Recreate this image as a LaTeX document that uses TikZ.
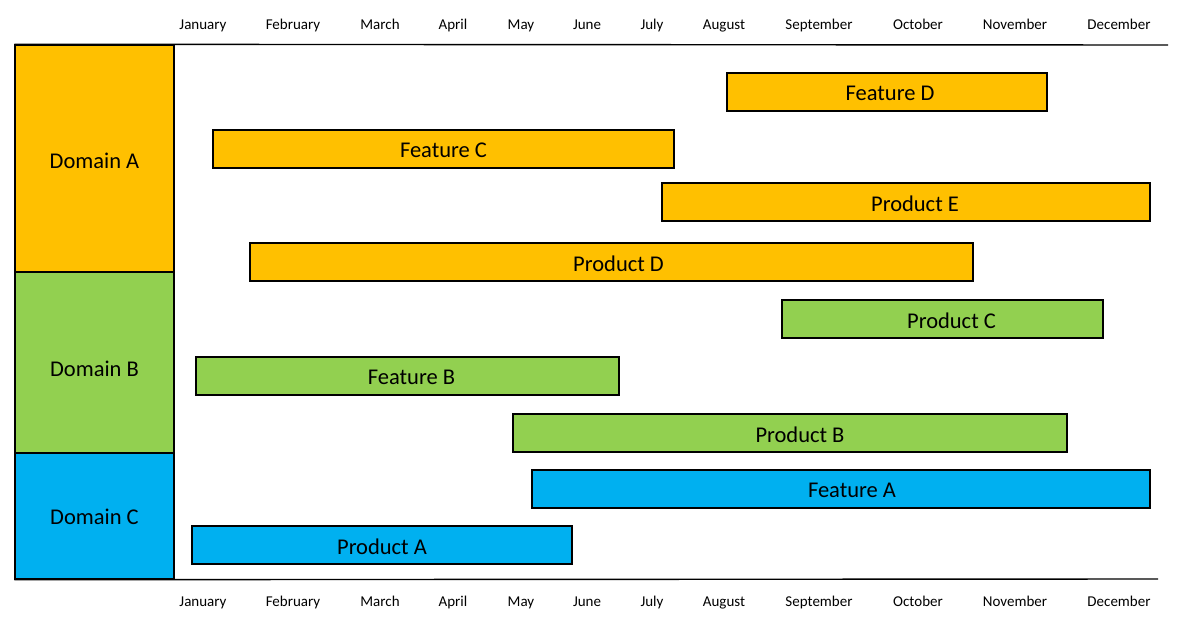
\documentclass[tikz,border=0pt]{standalone}
\usepackage{fontspec}
\setmainfont{Carlito}
\definecolor{amber}{HTML}{FFC000}
\definecolor{leaf}{HTML}{92D050}
\definecolor{sky}{HTML}{00B0F0}
\tikzset{
  bar/.style={draw=black, line width=1.4pt, inner sep=0pt, minimum height=38pt,
    font=\fontsize{22.5}{26}\selectfont},
  domainbox/.style={draw=black, line width=1.4pt, inner sep=0pt, minimum width=159pt,
    font=\fontsize{22.5}{26}\selectfont},
  month/.style={anchor=base, inner sep=0pt, font=\fontsize{15}{18}\selectfont}
}
% text moved down inside its box, size kept
\newcommand{\droptext}[2]{\raisebox{-#1pt}[\height][\depth]{#2}}
% bar text pushed right by half the gap
\newcommand{\pushtext}[2]{\droptext{1.5}{\hspace*{#1pt}#2}}
\begin{document}
\begin{tikzpicture}[x=1pt, y=-1pt]
            \useasboundingbox (0,0) rectangle (1200,640);
            % domains
            \node[domainbox, fill=amber, minimum height=227pt] (domA) at (94.5,158.5) {\droptext{2}{Domain A}};
            \node[domainbox, fill=leaf, minimum height=181pt] (domB) at (94.5,362.5) {\droptext{6}{Domain B}};
            \node[domainbox, fill=sky, minimum height=126pt] (domC) at (94.5,516) {\droptext{1}{Domain C}};

            % axis lines
            \coordinate (topend) at (1168,45);
            \coordinate (botend) at (1158,579);
            \draw[line width=1.4pt] (domA.north west) -- (topend);
            \draw[line width=1.4pt] (domC.south west) -- (botend);

            % months, top
            \node[month] (jan-t) at (203,29) {January};
            \node[month] (feb-t) at (293,29) {February};
            \node[month] (mar-t) at (380,29) {March};
            \node[month] (apr-t) at (453,29) {April};
            \node[month] (may-t) at (521,29) {May};
            \node[month] (jun-t) at (587,29) {June};
            \node[month] (jul-t) at (652,29) {July};
            \node[month] (aug-t) at (724,29) {August};
            \node[month] (sep-t) at (819,29) {September};
            \node[month] (oct-t) at (918,29) {October};
            \node[month] (nov-t) at (1015,29) {November};
            \node[month] (dec-t) at (1119,29) {December};

            % months, bottom
            \node[month] (jan-b) at (203,606.5) {January};
            \node[month] (feb-b) at (293,606.5) {February};
            \node[month] (mar-b) at (380,606.5) {March};
            \node[month] (apr-b) at (453,606.5) {April};
            \node[month] (may-b) at (521,606.5) {May};
            \node[month] (jun-b) at (587,606.5) {June};
            \node[month] (jul-b) at (652,606.5) {July};
            \node[month] (aug-b) at (724,606.5) {August};
            \node[month] (sep-b) at (819,606.5) {September};
            \node[month] (oct-b) at (918,606.5) {October};
            \node[month] (nov-b) at (1015,606.5) {November};
            \node[month] (dec-b) at (1119,606.5) {December};

            % bars
            \node[bar, fill=amber, minimum width=320pt] (featD) at (887,92) {\pushtext{6}{Feature D}};
            \node[bar, fill=amber, minimum width=461pt] (featC) at (443.5,149) {\pushtext{0}{Feature C}};
            \node[bar, fill=amber, minimum width=488pt] (prodE) at (906,202) {\pushtext{18}{Product E}};
            \node[bar, fill=amber, minimum width=723pt] (prodD) at (611.5,262) {\pushtext{14}{Product D}};
            \node[bar, fill=leaf, minimum width=321pt] (prodC) at (942.5,319) {\pushtext{18}{Product C}};
            \node[bar, fill=leaf, minimum width=423pt] (featB) at (407.5,376) {\pushtext{8}{Feature B}};
            \node[bar, fill=leaf, minimum width=554pt] (prodB) at (790,433) {\pushtext{20}{Product B}};
            \node[bar, fill=sky, minimum width=618pt] (featA) at (841,489) {\pushtext{22}{Feature A}};
            \node[bar, fill=sky, minimum width=380pt] (prodA) at (382,545) {\pushtext{0}{Product A}};
        \end{tikzpicture}
\end{document}
